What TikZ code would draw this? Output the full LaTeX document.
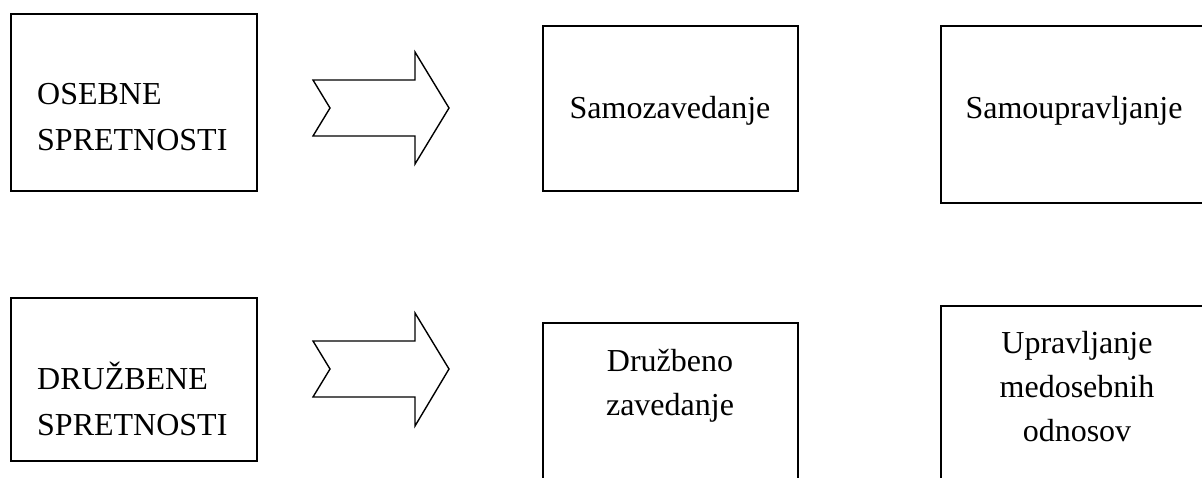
\documentclass[tikz,border=0pt]{standalone}
\usepackage{fontspec}
\setmainfont{Liberation Serif}
\begin{document}
\begin{tikzpicture}[x=1pt,y=-1pt,
  box/.style={draw=black,line width=1.6pt,rectangle,inner sep=0pt,anchor=north west},
  txt/.style={inner sep=0pt,font=\fontsize{32pt}{37pt}\selectfont},
  blockarrow/.style={draw=black,line width=1.4pt,line join=miter}]
\useasboundingbox (0,0) rectangle (1202,477);
\clip (0,0) rectangle (1202,477);
% left boxes
\node[box,minimum width=246pt,minimum height=177pt] (osebne) at (10,13) {};
\node[txt,anchor=base west] (osebne1) at (37,104) {OSEBNE};
\node[txt,anchor=base west] (osebne2) at (37,150) {SPRETNOSTI};
\node[box,minimum width=246pt,minimum height=163pt] (druzbene) at (10,297) {};
\node[txt,anchor=base west] (druzbene1) at (37,389) {DRUŽBENE};
\node[txt,anchor=base west] (druzbene2) at (37,435) {SPRETNOSTI};
% block arrows
\draw[blockarrow] (313,80) -- (415,80) -- (415,52) -- (449,108) -- (415,164) -- (415,136) -- (313,136) -- (330,108) -- cycle;
\draw[blockarrow] (313,341) -- (415,341) -- (415,313) -- (449,369) -- (415,426) -- (415,397) -- (313,397) -- (330,369) -- cycle;
% middle boxes
\node[box,minimum width=255pt,minimum height=165pt] (samoz) at (542,25) {};
\node[txt,anchor=base] (samoz1) at (670,118) {Samozavedanje};
\node[box,minimum width=255pt,minimum height=200pt] (druzz) at (542,322) {};
\node[txt,anchor=base] (druzz1) at (670,371) {Družbeno};
\node[txt,anchor=base] (druzz2) at (670,415) {zavedanje};
% right boxes
\node[box,minimum width=280pt,minimum height=177pt] (samou) at (940,25) {};
\node[txt,anchor=base] (samou1) at (1074,118) {Samoupravljanje};
\node[box,minimum width=280pt,minimum height=200pt] (uprav) at (940,305) {};
\node[txt,anchor=base] (uprav1) at (1077,353) {Upravljanje};
\node[txt,anchor=base] (uprav2) at (1077,397) {medosebnih};
\node[txt,anchor=base] (uprav3) at (1077,441) {odnosov};
\end{tikzpicture}
\end{document}
